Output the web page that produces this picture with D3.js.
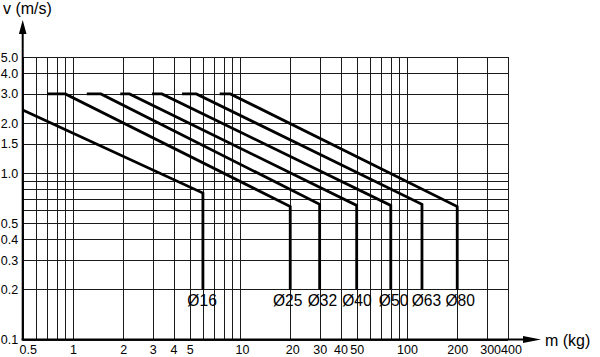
<!DOCTYPE html>
<html>
<head>
<meta charset="utf-8">
<script src="https://cdn.jsdelivr.net/npm/d3@7"></script>
<style>
  html, body { margin: 0; padding: 0; background: #fff; }
  svg { display: block; font-family: "Liberation Sans", Arial, sans-serif; }
</style>
</head>
<body>
<svg id="chart" width="600" height="357"></svg>
<script>
// ---- data ----
const diameters = ["Ø16", "Ø25", "Ø32", "Ø40", "Ø50", "Ø63", "Ø80"];
// mass (kg) points along each curve
const massØ16 = [0.5, 6, 6];
const massØ25 = [0.7, 0.9, 20, 20];
const massØ32 = [1.21, 1.47, 30, 30];
const massØ40 = [1.92, 2.18, 50, 50];
const massØ50 = [2.97, 3.41, 80, 80];
const massØ63 = [4.5, 5.48, 123, 123];
const massØ80 = [7.56, 8.76, 200, 200];
// speed (m/s) points along each curve
const speedØ16 = [2.4, 0.76, 0.2];
const speedØ25 = [3.0, 3.0, 0.63, 0.2];
const speedØ32 = [3.0, 3.0, 0.65, 0.2];
const speedØ40 = [3.0, 3.0, 0.64, 0.2];
const speedØ50 = [3.0, 3.0, 0.64, 0.2];
const speedØ63 = [3.0, 3.0, 0.65, 0.2];
const speedØ80 = [3.0, 3.0, 0.63, 0.2];
const massSeries = [massØ16, massØ25, massØ32, massØ40, massØ50, massØ63, massØ80];
const speedSeries = [speedØ16, speedØ25, speedØ32, speedØ40, speedØ50, speedØ63, speedØ80];
const labelSpeed = 0.2;

// tick labels and grid values
const xTickValues = [0.5, 1, 2, 3, 4, 5, 10, 20, 30, 40, 50, 100, 200, 300, 400];
const xTickLabels = ["0.5", "1", "2", "3", "4", "5", "10", "20", "30", "40", "50", "100", "200", "300", "400"];
const yTickValues = [0.1, 0.2, 0.3, 0.4, 0.5, 1.0, 1.5, 2.0, 3.0, 4.0, 5.0];
const yTickLabels = ["0.1", "0.2", "0.3", "0.4", "0.5", "1.0", "1.5", "2.0", "3.0", "4.0", "5.0"];
const xGridValues = [0.5, 0.6, 0.7, 0.8, 0.9, 1, 2, 3, 4, 5, 6, 7, 8, 9, 10, 20, 30, 40, 50, 60, 70, 80, 90, 100, 200, 300, 400];
const yGridValues = [0.1, 0.2, 0.3, 0.4, 0.5, 0.6, 0.7, 0.8, 0.9, 1.0, 1.5, 2, 3, 4, 5];
const xTitle = "m (kg)";
const yTitle = "v (m/s)";

// ---- layout ----
const svg = d3.select("#chart");
const x = d3.scaleLog().domain([0.5, 400]).range([22.7, 507.5]);
const y = d3.scaleLog().domain([0.1, 5]).range([339.5, 57]);

// grid
const grid = svg.append("g").attr("stroke", "#1a1a1a").attr("stroke-width", 1).attr("shape-rendering", "crispEdges");
grid.selectAll("line.v").data(xGridValues).join("line")
  .attr("x1", d => Math.round(x(d)) + 0.5).attr("x2", d => Math.round(x(d)) + 0.5)
  .attr("y1", y(5)).attr("y2", y(0.1));
grid.selectAll("line.h").data(yGridValues).join("line")
  .attr("y1", d => Math.round(y(d)) + 0.5).attr("y2", d => Math.round(y(d)) + 0.5)
  .attr("x1", x(0.5)).attr("x2", x(400));

// axes lines with arrows
const axisG = svg.append("g");
axisG.append("line").attr("x1", x(0.5)).attr("x2", x(0.5)).attr("y1", y(0.1) + 1).attr("y2", 30)
  .attr("stroke", "#000").attr("stroke-width", 2);
axisG.append("path").attr("d", `M${x(0.5)},20 L${x(0.5) - 3.8},34 L${x(0.5) + 3.8},34 Z`).attr("fill", "#000");
axisG.append("line").attr("x1", x(0.5) - 1).attr("x2", 528).attr("y1", y(0.1)).attr("y2", y(0.1))
  .attr("stroke", "#000").attr("stroke-width", 2);
axisG.append("path").attr("d", `M541,${y(0.1)} L523,${y(0.1) - 3.5} L523,${y(0.1) + 3.5} Z`).attr("fill", "#000");

// tick labels via d3 axes
const xAxis = d3.axisBottom(x).tickValues(xTickValues).tickSize(0).tickPadding(6)
  .tickFormat((d, i) => xTickLabels[i]);
const gx = svg.append("g").attr("transform", `translate(0,${y(0.1)})`).call(xAxis);
gx.select(".domain").remove();
gx.selectAll("text").attr("font-size", 12.5).attr("fill", "#000")
  .attr("font-family", "Liberation Sans, Arial, sans-serif")
  .attr("dx", d => d === 0.5 ? 5 : (d >= 300 ? 3.5 : (d === 10 || d === 20 ? 2 : 0)));

const yAxis = d3.axisLeft(y).tickValues(yTickValues).tickSize(0).tickPadding(4.5)
  .tickFormat((d, i) => yTickLabels[i]);
const gy = svg.append("g").attr("transform", `translate(${x(0.5)},0)`).call(yAxis);
gy.select(".domain").remove();
gy.selectAll("text").attr("font-size", 12.5).attr("fill", "#000")
  .attr("font-family", "Liberation Sans, Arial, sans-serif");

// titles
svg.append("text").attr("x", 3).attr("y", 14).attr("font-size", 16).attr("fill", "#000").text(yTitle);
svg.append("text").attr("x", 545).attr("y", 346).attr("font-size", 16).attr("fill", "#000").text(xTitle);

// curves
const line = d3.line().x(d => x(d[0])).y(d => y(d[1]));
svg.append("g").selectAll("path").data(diameters).join("path")
  .attr("d", (d, i) => line(massSeries[i].map((m, j) => [m, speedSeries[i][j]])))
  .attr("fill", "none").attr("stroke", "#000").attr("stroke-width", 2.8)
  .attr("stroke-linejoin", "miter");

// curve labels
const labelNudge = [-0.8, -2.5, 2.8, 0.3, 2.8, 4.5, 3];
svg.append("g").selectAll("text").data(diameters).join("text")
  .attr("x", (d, i) => x(massSeries[i][massSeries[i].length - 1]) + labelNudge[i])
  .attr("y", y(labelSpeed) + 16.5)
  .attr("text-anchor", "middle").attr("font-size", 16.5).attr("fill", "#000")
  .attr("textLength", 29.5).attr("lengthAdjust", "spacingAndGlyphs")
  .text(d => d);
</script>
</body>
</html>
